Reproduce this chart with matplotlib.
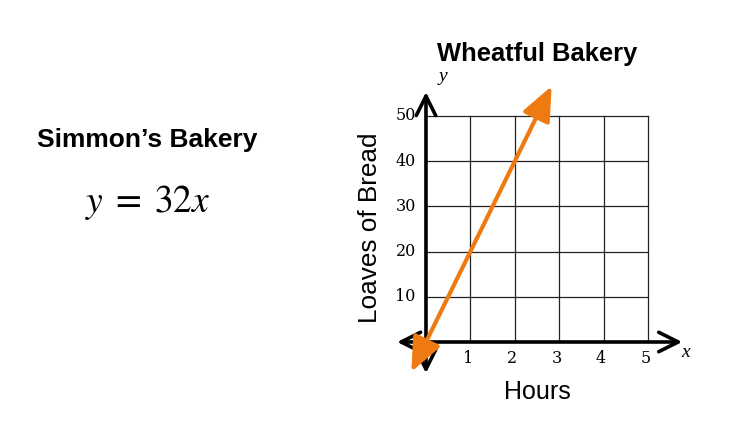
import matplotlib
matplotlib.use('Agg')
import matplotlib.pyplot as plt

plt.rcParams['mathtext.fontset'] = 'stix'

# data
x_ticks = [1, 2, 3, 4, 5]
y_ticks = [10, 20, 30, 40, 50]
line_hours = [-0.33, 2.83]      # orange line ends (arrow tips)
line_loaves = [-6.6, 56.6]
orange = '#f07a12'

fig = plt.figure(figsize=(7.3, 4.33), dpi=100)
ax = fig.add_axes([0.5227, 0.1058, 0.4258, 0.7307])
ax.set_xlim(-1, 6)
ax.set_ylim(-10, 60)
ax.set_axis_off()

# grid
for xv in x_ticks:
    ax.plot([xv, xv], [0, y_ticks[-1]], color='#222222', lw=0.9)
for yv in y_ticks:
    ax.plot([0, x_ticks[-1]], [yv, yv], color='#222222', lw=0.9)

# axes arrows
axis_arrow = dict(arrowstyle='<->,head_length=0.7,head_width=0.35', color='black',
                  lw=2.6, mutation_scale=20, shrinkA=0, shrinkB=0)
ax.annotate('', xy=(5.77, 0), xytext=(-0.65, 0), arrowprops=axis_arrow)
ax.annotate('', xy=(0, 55.3), xytext=(0, -6.9), arrowprops=axis_arrow)

# orange line
ax.annotate('', xy=(line_hours[1], line_loaves[1]), xytext=(line_hours[0], line_loaves[0]),
            arrowprops=dict(arrowstyle='<|-|>,head_length=0.7,head_width=0.3', color=orange,
                            lw=3, mutation_scale=30, shrinkA=0, shrinkB=0))

# tick labels
for xv in x_ticks:
    ax.text(xv - 0.06, -3.6, str(xv), ha='center', va='center',
            family='DejaVu Serif', fontsize=11.5)
for yv in y_ticks:
    ax.text(-0.23, yv, str(yv), ha='right', va='center',
            family='DejaVu Serif', fontsize=11.5)

ax.text(5.85, -2.4, 'x', ha='center', va='center', family='Liberation Serif',
        style='italic', fontsize=14)
ax.text(0.38, 58.8, 'y', ha='center', va='center', family='Liberation Serif',
        style='italic', fontsize=14)

ax.text(2.5, 63.7, 'Wheatful Bakery', ha='center', va='center',
        family='Liberation Sans', weight='bold', fontsize=18.4)
ax.text(2.5, -11.1, 'Hours', ha='center', va='center',
        family='Liberation Sans', fontsize=18)
ax.text(-1.26, 25.2, 'Loaves of Bread', ha='center', va='center', rotation=90,
        family='Liberation Sans', fontsize=18.8)

# left side
fig.text(147 / 730, 1 - 140 / 433, 'Simmon\u2019s Bakery', ha='center', va='center',
         family='Liberation Sans', weight='bold', fontsize=19)
fig.text(148 / 730, 1 - 202 / 433, r'$y\;=\;32x$', ha='center', va='center', fontsize=27)

fig.savefig('out.png', dpi=100, facecolor='white')
